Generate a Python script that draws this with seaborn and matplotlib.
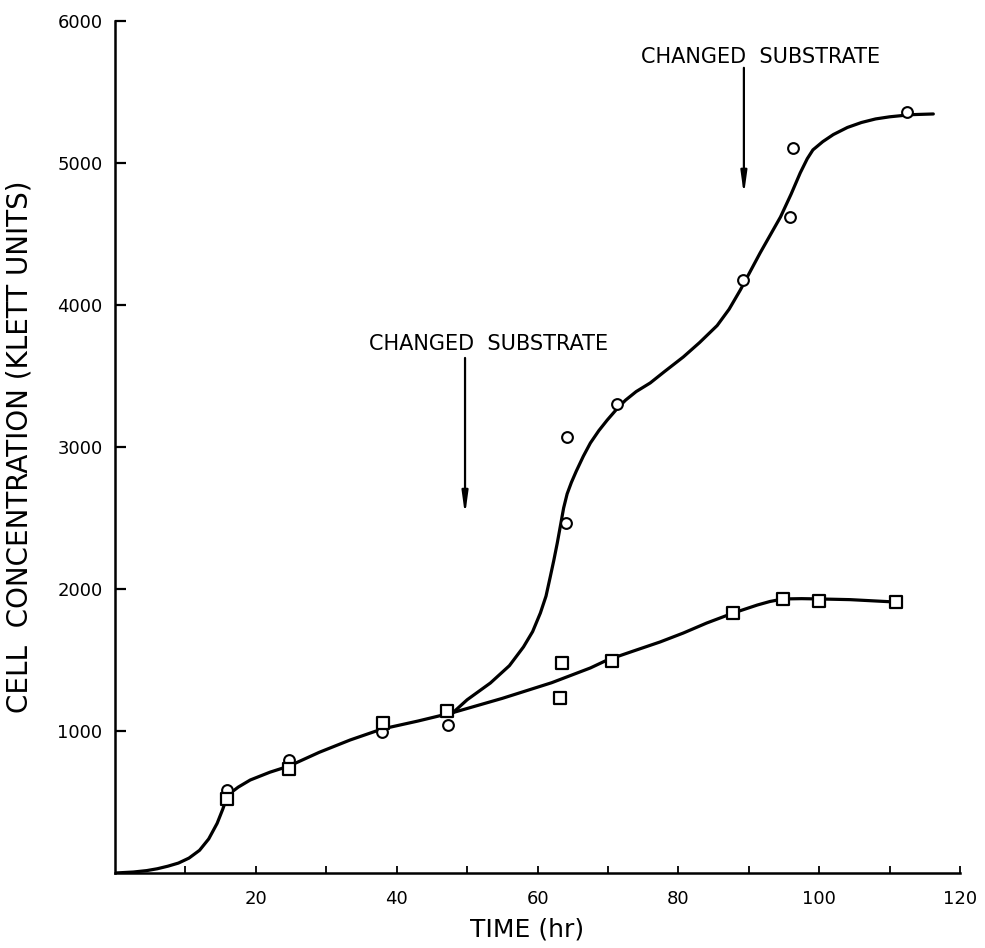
import numpy as np
import pandas as pd
import seaborn as sns
import matplotlib.pyplot as plt

sns.set_style("ticks")
plt.rcParams['font.family'] = ['DejaVu Sans']
for key in ['text.color', 'axes.labelcolor', 'xtick.color', 'ytick.color', 'axes.edgecolor']:
    plt.rcParams[key] = 'black'

# ---------------------------------------------------------
# data
# ---------------------------------------------------------
# measured points, circles (substrate changed) and squares
circle_t = [15.9, 24.7, 37.9, 47.3, 64.1, 64.2, 71.3, 89.2, 95.9, 96.3, 112.5]
circle_y = [585, 796, 995, 1042, 2465, 3070, 3303, 4176, 4620, 5106, 5360]

square_t = [15.9, 24.7, 38.0, 47.2, 63.4, 63.2, 70.5, 87.8, 94.9, 99.9, 110.9]
square_y = [521, 732, 1056, 1141, 1479, 1232, 1493, 1831, 1930, 1916, 1908]

# hand drawn fitted curves
common_t = [0, 2.6, 4.5, 6, 7.5, 9, 10.5, 12, 13.3, 14.5, 15.3, 15.9, 16.7, 17.5, 19.2, 22, 24.7,
            29, 33.4, 37.9, 43, 48]
common_y = [0, 7, 17, 30, 48, 70, 105, 160, 240, 350, 450, 535, 575, 605, 655, 710, 753,
            850, 937, 1014, 1070, 1130]

upper_t = [48, 50, 53.3, 56, 58, 59.3, 60.4, 61.2, 61.8, 62.3, 62.8, 63.3, 63.7, 64.2, 64.8,
           65.5, 66.5, 67.5, 68.7, 69.9, 71.3, 72.5, 74, 76, 78, 80.7, 83, 85.5, 87.2,
           88.8, 91.6, 94.5, 96, 97.3, 98.3, 99.1, 100.5, 102, 104, 106, 108, 110, 113, 116.2]
upper_y = [1130, 1220, 1338, 1460, 1592, 1700, 1831, 1950, 2085, 2200, 2324, 2460, 2570, 2670, 2750,
           2830, 2935, 3028, 3115, 3190, 3270, 3330, 3390, 3451, 3530, 3634, 3735, 3855, 3970,
           4106, 4366, 4620, 4780, 4930, 5030, 5092, 5150, 5200, 5250, 5285, 5310, 5325, 5340, 5345]

lower_t = [48, 55, 62, 67.5, 69.9, 73.6, 77.4, 80.7, 84, 87.8, 91.2, 93, 94.9, 97.5, 99.9,
           104.4, 110.9]
lower_y = [1130, 1230, 1340, 1444, 1500, 1563, 1627, 1690, 1760, 1831, 1887, 1912, 1930, 1932, 1930,
           1925, 1908]

# substrate change arrows (time, arrow top, arrow tip) and label position
change_t = [49.7, 89.3]
arrow_top = [3627, 5670]
arrow_tip = [2521, 4775]
label_t = [53.0, 91.6]
label_y = [3725, 5746]

xticks = list(range(10, 121, 10))
xticklabels = [str(t) if t % 20 == 0 else '' for t in xticks]
yticks = [1000, 2000, 3000, 4000, 5000, 6000]

# ---------------------------------------------------------
# plot
# ---------------------------------------------------------
fig = plt.figure(figsize=(9.85, 9.48), dpi=100)
ax = fig.add_axes([0.1168, 0.0791, 0.8579, 0.8988])

curves = pd.concat([
    pd.DataFrame({'t': common_t, 'y': common_y, 'curve': 'common'}),
    pd.DataFrame({'t': upper_t, 'y': upper_y, 'curve': 'upper'}),
    pd.DataFrame({'t': lower_t, 'y': lower_y, 'curve': 'lower'}),
], ignore_index=True)

sns.lineplot(data=curves, x='t', y='y', units='curve', estimator=None, sort=False,
             color='black', linewidth=2.3, ax=ax)

sns.scatterplot(x=circle_t, y=circle_y, marker='o', s=60, facecolor='white',
                edgecolor='black', linewidth=1.5, zorder=3, ax=ax)
sns.scatterplot(x=square_t, y=square_y, marker='s', s=85, facecolor='white',
                edgecolor='black', linewidth=1.6, zorder=3, ax=ax)

for t, top, tip, lt, ly in zip(change_t, arrow_top, arrow_tip, label_t, label_y):
    ax.annotate('', xy=(t, tip), xytext=(t, top),
                arrowprops=dict(arrowstyle='-|>,head_length=1.3,head_width=0.18',
                                color='black', lw=1.6, shrinkA=0, shrinkB=0))
    ax.text(lt, ly, 'CHANGED  SUBSTRATE', ha='center', va='center', fontsize=15)

ax.set_xlim(0, 120)
ax.set_ylim(0, 6000)
ax.set_xticks(xticks)
ax.set_xticklabels(xticklabels)
ax.set_yticks(yticks)
ax.tick_params(axis='x', direction='in', length=5, width=1.3, pad=12, labelsize=13)
ax.tick_params(axis='y', direction='in', length=8, width=1.6, pad=9, labelsize=13)

sns.despine(ax=ax)
for side in ['left', 'bottom']:
    ax.spines[side].set_linewidth(1.8)

ax.set_xlabel('TIME (hr)', fontsize=18)
ax.set_ylabel('CELL  CONCENTRATION (KLETT UNITS)', fontsize=20)
ax.xaxis.set_label_coords(0.488, -0.052)
ax.yaxis.set_label_coords(-0.097, 0.5)

fig.savefig('out.png', dpi=100)
